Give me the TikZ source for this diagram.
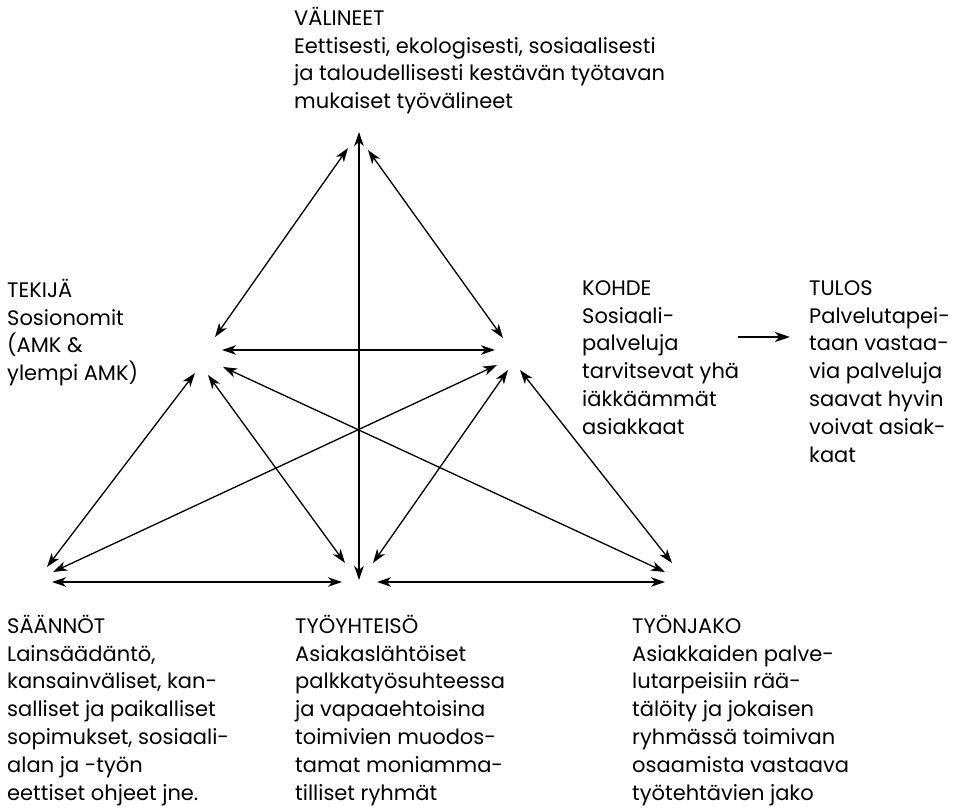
\documentclass[tikz,border=0pt]{standalone}
\usepackage{fontspec}
\setmainfont{Poppins}
\usetikzlibrary{arrows.meta}
\begin{document}
\begin{tikzpicture}[x=1pt,y=-1pt,
  lbl/.style={anchor=north west, inner sep=0pt, align=left,
    font=\fontsize{21}{27.8}\selectfont},
  link/.style={line width=1.3pt,
    {Stealth[length=14pt,width=9.5pt,inset=4pt]}-{Stealth[length=14pt,width=9.5pt,inset=4pt]}},
  res/.style={line width=2.2pt, -{Stealth[length=15pt,width=10pt,inset=4pt]}}]
\useasboundingbox (0,0) rectangle (960,808);
\newcommand{\fl}{\rule{0pt}{24pt}}
% text blocks
\node[lbl] (val) at (294,1) {\fl VÄLINEET\\Eettisesti, ekologisesti, sosiaalisesti\\ja taloudellisesti kestävän työtavan\\mukaiset työvälineet};
\node[lbl] (tek) at (7,273) {\fl TEKIJÄ\\Sosionomit\\(AMK \&\\ylempi AMK)};
\node[lbl] (koh) at (582,271) {\fl KOHDE\\Sosiaali-\\palveluja\\tarvitsevat yhä\\iäkkäämmät\\asiakkaat};
\node[lbl] (tul) at (809,271) {\fl TULOS\\Palvelutapei-\\taan vastaa-\\via palveluja\\saavat hyvin\\voivat asiak-\\kaat};
\node[lbl] (saa) at (7,609) {\fl SÄÄNNÖT\\Lainsäädäntö,\\kansainväliset, kan-\\salliset ja paikalliset\\sopimukset, sosiaali-\\alan ja -työn\\eettiset ohjeet jne.};
\node[lbl] (tyy) at (295,609) {\fl TYÖYHTEISÖ\\Asiakaslähtöiset\\palkkatyösuhteessa\\ja vapaaehtoisina\\toimivien muodos-\\tamat moniamma-\\tilliset ryhmät};
\node[lbl] (tyj) at (632,609) {\fl TYÖNJAKO\\Asiakkaiden palve-\\lutarpeisiin rää-\\tälöity ja jokaisen\\ryhmässä toimivan\\osaamista vastaava\\työtehtävien jako};
% connector end points
\coordinate (vT) at (348,148);
\coordinate (vK) at (368,150);
\coordinate (vY) at (359,132);
\coordinate (tV) at (215,337);
\coordinate (tK) at (222,350);
\coordinate (tS) at (195,373);
\coordinate (tY) at (208,375);
\coordinate (tJ) at (223,367);
\coordinate (kV) at (503,338);
\coordinate (kT) at (495,350);
\coordinate (kS) at (497,365);
\coordinate (kY) at (508,370);
\coordinate (kJ) at (520,370);
\coordinate (kR) at (738,337);
\coordinate (rK) at (790,337);
\coordinate (sT) at (47,567);
\coordinate (sK) at (53,572);
\coordinate (sY) at (52,582);
\coordinate (yV) at (359,580);
\coordinate (yT) at (345,563);
\coordinate (yK) at (373,563);
\coordinate (yS) at (342,582);
\coordinate (yJ) at (377,582);
\coordinate (jK) at (672,563);
\coordinate (jT) at (665,572);
\coordinate (jY) at (665,582);
% connectors
\draw[link] (vT) -- (tV);
\draw[link] (vK) -- (kV);
\draw[link] (vY) -- (yV);
\draw[link] (tK) -- (kT);
\draw[link] (tS) -- (sT);
\draw[link] (tY) -- (yT);
\draw[link] (tJ) -- (jT);
\draw[link] (kS) -- (sK);
\draw[link] (kY) -- (yK);
\draw[link] (kJ) -- (jK);
\draw[link] (sY) -- (yS);
\draw[link] (yJ) -- (jY);
\draw[res] (kR) -- (rK);
\end{tikzpicture}
\end{document}
